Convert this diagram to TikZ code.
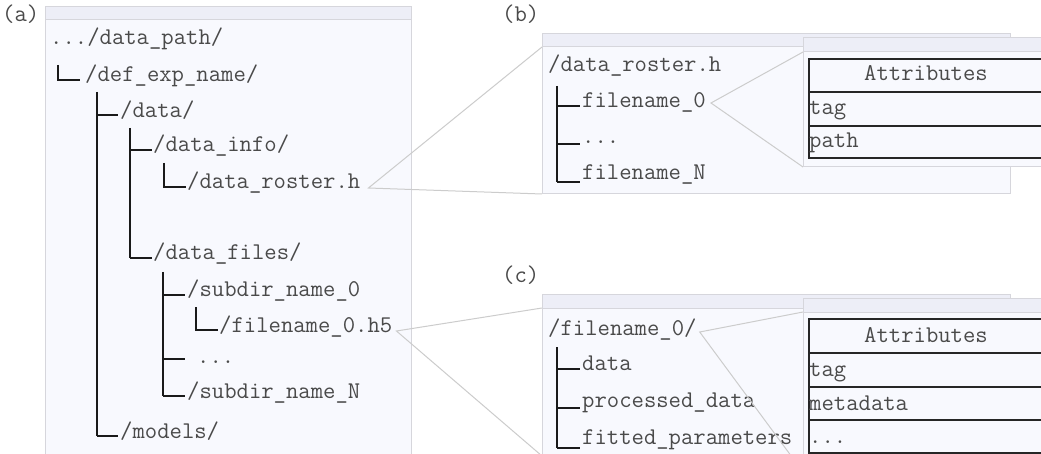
\documentclass[tikz,border=0pt]{standalone}
\usepackage{fontspec}
\usetikzlibrary{calc}
\definecolor{panelfill}{HTML}{F8F9FE}
\definecolor{barfill}{HTML}{EDEEF7}
\definecolor{bordercol}{HTML}{D6D6DC}
\definecolor{zoomcol}{HTML}{CCCCCC}
\definecolor{treecol}{HTML}{1A1A1A}
\definecolor{txtcol}{HTML}{4A4A4A}
\definecolor{tabcol}{HTML}{262626}
\begin{document}
\begin{tikzpicture}[x=1pt,y=-1pt,
  txt/.style={anchor=base west, inner sep=0pt, font=\ttfamily\fontsize{24}{28}\selectfont, text=txtcol},
  tree/.style={line width=2.4pt, draw=treecol},
  zoomline/.style={draw=zoomcol, line width=1pt},
  panel/.style={draw=bordercol, fill=panelfill, line width=1pt},
  bar/.style={draw=bordercol, fill=barfill, line width=1pt},
  tab/.style={draw=tabcol, line width=2pt, fill=panelfill},
]
\useasboundingbox (0,0) rectangle (1041,454);
\clip (0,0) rectangle (1041,454);
\fill[white] (0,0) rectangle (1041,454);

% ---------- panel (a)
\node[txt] (la) at (2,22) {(a)};
\draw[panel] (45,7) rectangle (411,470);
\draw[bar] (45,7) rectangle (411,20);

\node[txt] (a0) at (50,45) {.../data\_path/};
\node[txt] (a1) at (85,82) {/def\_exp\_name/};
\node[txt] (a2) at (120,118) {/data/};
\node[txt] (a3) at (153,152) {/data\_info/};
\node[txt] (a4) at (187,189) {/data\_roster.h};
\node[txt] (a5) at (153,260) {/data\_files/};
\node[txt] (a6) at (187,297) {/subdir\_name\_0};
\node[txt] (a7) at (219,332) {/filename\_0.h5};
\node[txt] (a8) at (197,363) {...};
\node[txt] (a9) at (187,398) {/subdir\_name\_N};
\node[txt] (a10) at (120,438) {/models/};

\draw[tree] (58,65) |- (80,80);
\draw[tree] (97,92) -- (97,436);
\draw[tree] (97,115) -- (118,115);
\draw[tree] (97,436) -- (118,436);
\draw[tree] (130,128) -- (130,258);
\draw[tree] (130,150) -- (152,150);
\draw[tree] (130,258) -- (152,258);
\draw[tree] (164,163) |- (186,187);
\draw[tree] (163,272) -- (163,396);
\draw[tree] (163,295) -- (185,295);
\draw[tree] (163,359) -- (185,359);
\draw[tree] (163,396) -- (185,396);
\draw[tree] (196,307) |- (218,330);

% ---------- zoom connectors from (a)
\coordinate (btl) at (542,47);
\coordinate (bbl) at (542,194);
\coordinate (ctl) at (542,308);
\coordinate (cbl) at (542,456);
\coordinate (ra) at ($(a4.base east)+(8,-1)$);
\coordinate (ha) at ($(a7.base east)+(4,-1)$);
\draw[zoomline] (btl) -- (ra) -- (bbl);
\draw[zoomline] (ctl) -- (ha) -- (cbl);

% ---------- panel (b)
\node[txt] (lb) at (502,22) {(b)};
\draw[panel] (542,34) rectangle (1010,194);
\draw[bar] (542,34) rectangle (1010,47);
\node[txt] (b0) at (548,72) {/data\_roster.h};
\node[txt] (b1) at (582,108) {filename\_0};
\node[txt] (b2) at (582,144) {...};
\node[txt] (b3) at (582,180) {filename\_N};
\draw[tree] (557,86) -- (557,182);
\draw[tree] (557,106) -- (580,106);
\draw[tree] (557,144) -- (580,144);
\draw[tree] (557,182) -- (580,182);

\coordinate (bitl) at (803,52);
\coordinate (bibl) at (803,167);
\coordinate (rb) at ($(b1.base east)+(5,-5)$);
\draw[zoomline] (bitl) -- (rb) -- (bibl);

\draw[panel] (803,38) rectangle (1060,167);
\draw[bar] (803,38) rectangle (1060,52);
\draw[tab] (809,59) rectangle (1045,158);
\draw[tab] (809,92) -- (1045,92);
\draw[tab] (809,126) -- (1045,126);
\node[txt, anchor=base] (batt) at (926,81) {Attributes};
\node[txt] (btag) at (809,115) {tag};
\node[txt] (bpath) at (809,148) {path};

% ---------- panel (c)
\node[txt] (lc) at (502,283) {(c)};
\draw[panel] (542,294) rectangle (1010,456);
\draw[bar] (542,294) rectangle (1010,308);
\node[txt] (c0) at (548,335) {/filename\_0/};
\node[txt] (c1) at (582,370) {data};
\node[txt] (c2) at (582,407) {processed\_data};
\node[txt] (c3) at (582,444) {fitted\_parameters};
\draw[tree] (557,347) -- (557,448);
\draw[tree] (557,369) -- (580,369);
\draw[tree] (557,408) -- (580,408);
\draw[tree] (557,448) -- (580,448);

\coordinate (citl) at (803,312);
\coordinate (cibl) at (803,472);
\coordinate (rc) at ($(c0.base east)+(3,-3)$);
\draw[zoomline] (citl) -- (rc) -- (cibl);

\draw[panel] (803,298) rectangle (1060,480);
\draw[bar] (803,298) rectangle (1060,312);
\draw[tab] (809,319) rectangle (1045,453);
\draw[tab] (809,353) -- (1045,353);
\draw[tab] (809,387) -- (1045,387);
\draw[tab] (809,420) -- (1045,420);
\node[txt, anchor=base] (catt) at (926,342) {Attributes};
\node[txt] (ctag) at (809,376) {tag};
\node[txt] (cmeta) at (809,410) {metadata};
\node[txt] (cdots) at (809,443) {...};
\end{tikzpicture}
\end{document}
